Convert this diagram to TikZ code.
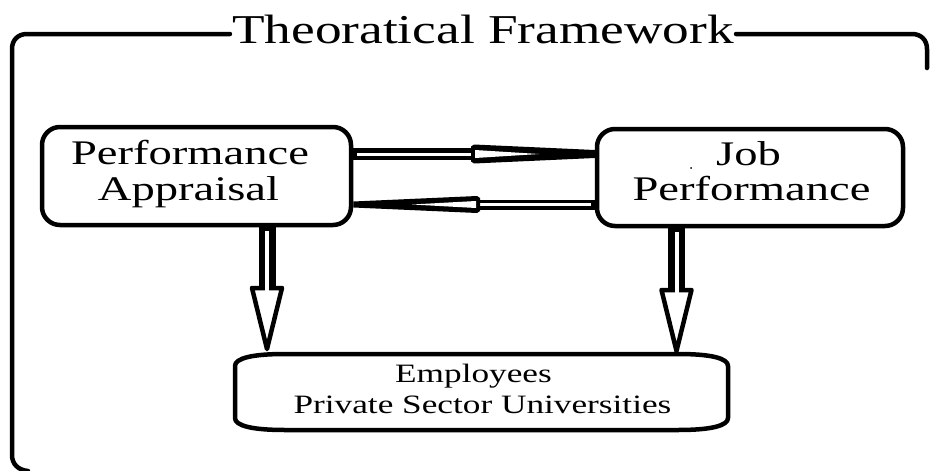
\documentclass[tikz,border=0pt]{standalone}
\usepackage{fontspec}
\setmainfont{Liberation Serif}
\newfontfamily\bodyfont[FakeStretch=1.35]{Liberation Serif}
\newfontfamily\titlefont[FakeStretch=1.3]{Liberation Serif}
\newfontfamily\smallfont[FakeStretch=1.33]{Liberation Serif}
\usetikzlibrary{calc}
\tikzset{
  boxstyle/.style={draw=black, line width=4.5pt, rounded corners=18pt, inner sep=0pt},
  framestyle/.style={draw=black, line width=4.5pt, line cap=round},
  titletext/.style={anchor=base, inner sep=0pt, font=\titlefont\fontsize{41}{44}\selectfont},
  bodytext/.style={anchor=base, inner sep=0pt, font=\bodyfont\fontsize{34.5}{36}\selectfont},
  smalltext/.style={anchor=base, inner sep=0pt, font=\smallfont\fontsize{26.5}{30}\selectfont},
  headstyle/.style={fill=white, draw=black, line width=4.5pt, line join=round},
}
\begin{document}
\begin{tikzpicture}[x=1pt, y=-1pt]
\useasboundingbox (0,0) rectangle (930,471);
\fill[white] (0,0) rectangle (930,471);

% title and outer frame
\node[titletext] (T) at (483,43) {Theoratical Framework};
\coordinate (ftop) at (0,34);
\draw[framestyle] ([xshift=-2pt]T.west |- ftop) -- (27,34) .. controls (18,34) and (12,40) .. (12,49)
   -- (12,455) .. controls (12,464) and (18,470) .. (28,471);
\draw[framestyle] ([xshift=2pt]T.east |- ftop) -- (912,34) .. controls (921,34) and (927,40) .. (927,49) -- (927,68);

% boxes
\node[boxstyle, minimum width=309pt, minimum height=98pt] (A) at (196.5,176) {};
\node[boxstyle, minimum width=306pt, minimum height=97pt] (B) at (750,177.5) {};
\node[inner sep=0pt, minimum width=493pt, minimum height=76pt] (C) at (481.5,392) {};
\draw[line width=4.5pt, line join=round] (285,354) -- (678,354) .. controls (710,354) and (728,358) .. (728,366)
   -- (728,418) .. controls (728,426) and (710,430) .. (678,430) -- (285,430)
   .. controls (253,430) and (235,426) .. (235,418) -- (235,366)
   .. controls (235,358) and (253,354) .. (285,354) -- cycle;

% texts
\node[bodytext] (a1) at (190,164) {Performance};
\node[bodytext] (a2) at (188.5,200) {Appraisal};
\node[bodytext] (b1) at (748.5,165) {Job};
\node[bodytext] (b2) at (751.5,200) {Performance};
\fill (691,168) circle (1pt);
\node[smalltext] (c1) at (473.5,382) {Employees};
\node[smalltext] (c2) at (482.5,413) {Private Sector Universities};

% head-base coordinates
\coordinate (h1) at (473,154);
\coordinate (h2) at (478,204.5);
\coordinate (v1) at (267,288);
\coordinate (v2) at (676.5,290);

% top arrow A -> B
\draw[line width=12pt] (A.east |- h1) -- (h1);
\draw[white, line width=3pt] ($(A.east |- h1)+(4,0)$) -- ($(h1)+(4,0)$);
\fill ($(h1)+(-2,-7.5)$) -- ($(h1)+(1,-9.5)$) -- ($(B.west |- h1)+(0,-4)$) -- ($(B.west |- h1)+(0,4)$)
   -- ($(h1)+(1,9.5)$) -- ($(h1)+(-2,7.5)$) -- cycle;
\fill[white] ($(h1)+(2,-4)$) -- ($(h1)+(66,0)$) -- ($(h1)+(2,4)$) -- cycle;

% bottom arrow B -> A
\draw[line width=10pt] (B.west |- h2) -- (h2);
\draw[white, line width=2.5pt] ($(B.west |- h2)+(-4,0)$) -- ($(h2)+(-4,0)$);
\fill ($(h2)+(2,-6.5)$) -- ($(h2)+(-1,-8.5)$) -- ($(A.east |- h2)+(0,-3)$) -- ($(A.east |- h2)+(0,3)$)
   -- ($(h2)+(-1,8.5)$) -- ($(h2)+(2,6.5)$) -- cycle;
\fill[white] ($(h2)+(-2,-3.5)$) -- ($(h2)+(-66,0)$) -- ($(h2)+(-2,3.5)$) -- cycle;

% vertical arrow A -> C
\draw[line width=17pt] (A.south -| v1) -- (v1);
\filldraw[headstyle] ($(v1)+(-15,0)$) -- ($(v1)+(15,0)$) -- ($(v1)+(0,61)$) -- cycle;
\draw[white, line width=4pt] ($(A.south -| v1)+(0,4)$) -- ($(v1)+(0,4)$);

% vertical arrow B -> C
\draw[line width=17pt] (B.south -| v2) -- (v2);
\filldraw[headstyle] ($(v2)+(-15,0)$) -- ($(v2)+(15,0)$) -- ($(v2)+(0,61)$) -- cycle;
\draw[white, line width=4pt] ($(B.south -| v2)+(0,4)$) -- ($(v2)+(0,4)$);
\end{tikzpicture}
\end{document}
